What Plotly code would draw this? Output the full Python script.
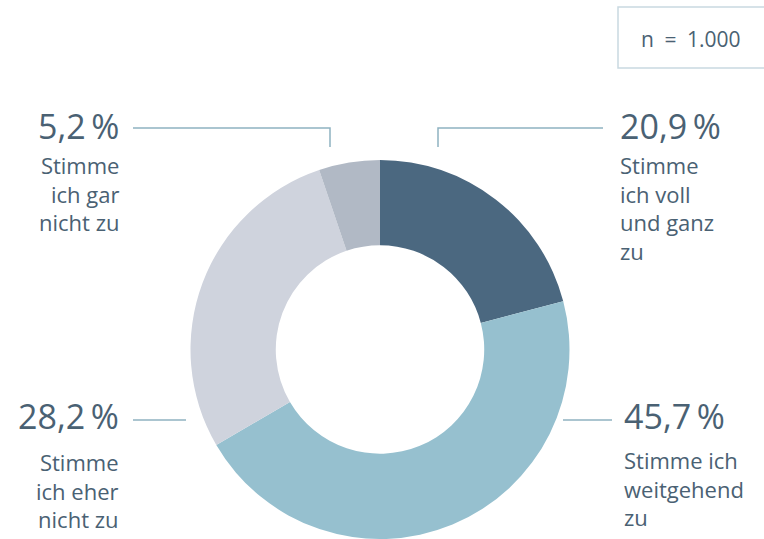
import plotly.graph_objects as go

W, H = 764, 539

categories = ["Stimme ich voll und ganz zu", "Stimme ich weitgehend zu",
              "Stimme ich eher nicht zu", "Stimme ich gar nicht zu"]
values = [20.9, 45.7, 28.2, 5.2]
value_labels = ["20,9\u2009%", "45,7\u2009%", "28,2\u2009%", "5,2\u2009%"]
label_lines = ["Stimme<br>ich voll<br>und ganz<br>zu",
               "Stimme ich<br>weitgehend<br>zu",
               "Stimme<br>ich eher<br>nicht zu",
               "Stimme<br>ich gar<br>nicht zu"]
colors = ["#4b6880", "#96c0cf", "#cfd3dd", "#b1b9c5"]
sample_note = "n\u2002=\u20021.000"

TEXT = "#4a6173"
LINE = "#8fb2c1"
FONT = "Open Sans"


def px(x):
    return x / W


def py(y):
    return 1 - y / H


fig = go.Figure(go.Pie(
    labels=categories, values=values, hole=0.55, sort=False,
    direction="clockwise", rotation=0,
    marker=dict(colors=colors, line=dict(width=0)),
    textinfo="none", hoverinfo="label+value",
    domain=dict(x=[px(189), px(571)], y=[0, py(160)]),
    showlegend=False,
))

# annotation placement (pixels): (x, y, anchor side)
pos_pct = [(618, 126, "left"), (622, 416, "left"), (121, 416, "right"), (121, 126, "right")]
pos_lab = [(618, 207.5, "left"), (622, 488.5, "left"), (121, 490, "right"), (121, 193, "right")]

ann = []
for i in range(4):
    x, y, side = pos_pct[i]
    ann.append(dict(x=px(x), y=py(y), xref="paper", yref="paper", text=value_labels[i],
                    showarrow=False, xanchor=side, yanchor="middle", align=side,
                    font=dict(family=FONT, size=34, color=TEXT)))
    x, y, side = pos_lab[i]
    ann.append(dict(x=px(x), y=py(y), xref="paper", yref="paper", text=label_lines[i],
                    showarrow=False, xanchor=side, yanchor="middle", align=side,
                    font=dict(family=FONT, size=22, color=TEXT)))

ann.append(dict(x=px(690), y=py(39), xref="paper", yref="paper", text=sample_note,
                showarrow=False, xanchor="center", yanchor="middle",
                font=dict(family=FONT, size=21, color=TEXT)))

lw = dict(color=LINE, width=1.5)
shapes = [
    dict(type="path", xref="paper", yref="paper",
         path=f"M {px(133)} {py(128)} L {px(330)} {py(128)} L {px(330)} {py(147)}", line=lw),
    dict(type="path", xref="paper", yref="paper",
         path=f"M {px(438)} {py(147)} L {px(438)} {py(128)} L {px(603)} {py(128)}", line=lw),
    dict(type="line", xref="paper", yref="paper", x0=px(133), x1=px(186), y0=py(420), y1=py(420), line=lw),
    dict(type="line", xref="paper", yref="paper", x0=px(563), x1=px(612), y0=py(420), y1=py(420), line=lw),
    dict(type="rect", xref="paper", yref="paper", x0=px(618), x1=px(770), y0=py(68), y1=py(7),
         line=dict(color="#c9d9e1", width=1.5)),
]

fig.update_layout(width=W, height=H, margin=dict(l=0, r=0, t=0, b=0),
                  paper_bgcolor="white", plot_bgcolor="white",
                  annotations=ann, shapes=shapes)

fig.write_html("out.html")
